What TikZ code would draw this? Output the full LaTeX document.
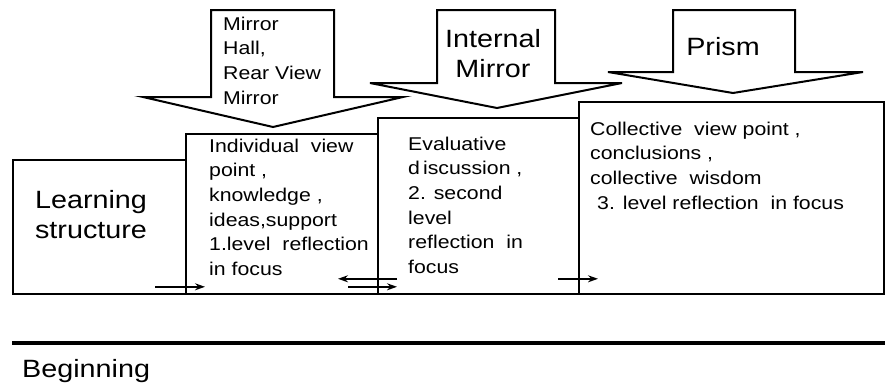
\documentclass[tikz,border=0pt]{standalone}
\usepackage{fontspec}
\setmainfont{Liberation Sans}[FakeStretch=1.15]
\usetikzlibrary{arrows.meta}

\begin{document}
\begin{tikzpicture}[x=1pt, y=1pt,
  boite/.style={draw, line width=1.8pt, anchor=north west, inner sep=0pt},
  fleche/.style={draw, line width=2pt, fill=white, line join=miter},
  petit/.style={font=\fontsize{18.5}{24.7}\selectfont, align=left, inner sep=0pt},
  grand/.style={font=\fontsize{25}{30}\selectfont, align=center, inner sep=0pt},
  lien/.style={-{Stealth[length=10pt,width=7pt]}, line width=1.4pt}]

  \useasboundingbox (0,0) rectangle (885,-383);

  % Les quatre boites, de gauche a droite, de plus en plus hautes
  \node[boite, minimum width=173pt, minimum height=134pt] (apprent) at (12,-159) {};
  \node[boite, minimum width=192pt, minimum height=160pt] (indiv) at (185,-133) {};
  \node[boite, minimum width=201pt, minimum height=176pt] (eval) at (377,-117) {};
  \node[boite, minimum width=305pt, minimum height=192pt] (collect) at (578,-101) {};

  % Fleches larges vers le bas au-dessus des boites
  \draw[fleche] (211,-10) -- (334,-10) -- (334,-97) -- (403,-97)
    -- (273,-127) -- (143,-97) -- (211,-97) -- cycle;
  \draw[fleche] (437,-10) -- (555,-10) -- (555,-83) -- (622,-83)
    -- (497,-108) -- (370,-83) -- (437,-83) -- cycle;
  \draw[fleche] (673,-10) -- (795,-10) -- (795,-72) -- (863,-72)
    -- (733,-93) -- (608,-72) -- (673,-72) -- cycle;

  % Textes des fleches
  \node[petit, anchor=north west] (miroirs) at (223,-16.5)
    {Mirror\\Hall,\\Rear View\\Mirror};
  \node[grand, anchor=north] (interne) at (493,-28.7) {Internal\\Mirror};
  \node[grand, anchor=north] (prisme) at (723,-37) {Prism};

  % Textes des boites
  \node[grand, anchor=north] (structure) at (91,-190) {Learning\\structure};
  \node[petit, anchor=north west] (t-indiv) at (209,-138.5)
    {Individual~~view\\point ,\\knowledge ,\\ideas,support\\1.level~~reflection\\in focus};
  \node[petit, anchor=north west] (t-eval) at (408,-136.5)
    {Evaluative\\d\,iscussion ,\\2. second\\level\\reflection~~in\\focus};
  \node[petit, anchor=north west] (t-collect) at (590,-121.5)
    {Collective~~view~point ,\\conclusions ,\\collective~~wisdom\\\hspace*{7pt}3. level~reflection~~in~focus};

  % Petites fleches entre les boites
  \draw[lien] ([shift={(-30,8)}]indiv.south west) -- ++(50,0);
  \draw[lien] ([shift={(20,16)}]eval.south west) -- ++(-59,0);
  \draw[lien] ([shift={(-29,8)}]eval.south west) -- ++(49,0);
  \draw[lien] ([shift={(-20,16)}]collect.south west) -- ++(40,0);

  % Ligne du temps et debut
  \coordinate (debut) at (12,-343);
  \draw[line width=3.5pt] (debut) -- ++(873,0);
  \node[grand, anchor=north west] (commence) at (22,-359) {Beginning};
\end{tikzpicture}
\end{document}
